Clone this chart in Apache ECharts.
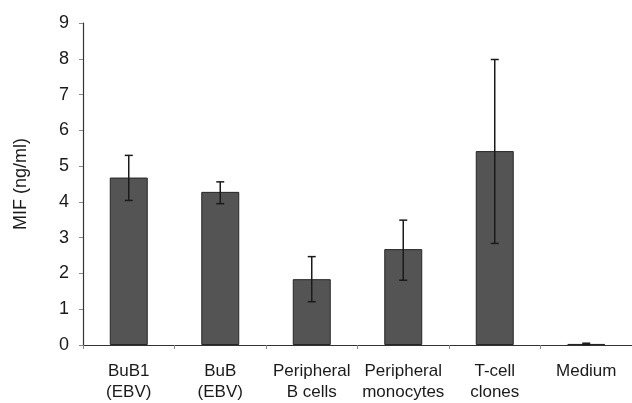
<!DOCTYPE html>
<html>
<head>
<meta charset="utf-8">
<script src="https://cdn.jsdelivr.net/npm/echarts@6/dist/echarts.min.js"></script>
<style>
html,body{margin:0;padding:0;background:#fff;}
#chart{width:632px;height:403px;}
</style>
</head>
<body>
<div id="chart"></div>
<script>
var categories = ['BuB1\n(EBV)', 'BuB\n(EBV)', 'Peripheral\nB cells', 'Peripheral\nmonocytes', 'T-cell\nclones', 'Medium'];
var means = [4.68, 4.28, 1.84, 2.68, 5.42, 0.03];
var errLow = [4.04, 3.95, 1.21, 1.81, 2.84, 0.01];
var errHigh = [5.30, 4.56, 2.47, 3.49, 7.98, 0.05];
var yTicks = [0, 1, 2, 3, 4, 5, 6, 7, 8, 9];

var chart = echarts.init(document.getElementById('chart'));
var font = 'Liberation Sans, Arial, sans-serif';
chart.setOption({
  animation: false,
  backgroundColor: '#fff',
  grid: {left: 83, right: 0, top: 23, bottom: 57},
  xAxis: {
    type: 'category',
    data: categories,
    axisLine: {lineStyle: {color: '#333', width: 1}},
    axisTick: {show: true, length: 4, lineStyle: {color: '#888'}},
    axisLabel: {interval: 0, color: '#1a1a1a', fontFamily: font, fontSize: 17, lineHeight: 21, margin: 16}
  },
  yAxis: {
    type: 'value',
    min: yTicks[0], max: yTicks[yTicks.length - 1], interval: 1,
    name: 'MIF (ng/ml)',
    nameLocation: 'middle',
    nameGap: 53,
    nameTextStyle: {color: '#1a1a1a', fontFamily: font, fontSize: 18},
    axisLine: {show: true, lineStyle: {color: '#333', width: 1.2}},
    axisTick: {show: true, length: 4, lineStyle: {color: '#888'}},
    splitLine: {show: false},
    axisLabel: {color: '#1a1a1a', fontFamily: font, fontSize: 18, margin: 14}
  },
  series: [
    {
      type: 'bar',
      data: means,
      barWidth: 38,
      itemStyle: {color: '#545454', borderColor: '#262626', borderWidth: 1}
    },
    {
      type: 'custom',
      data: categories.map(function (c, i) { return [i, errLow[i], errHigh[i]]; }),
      renderItem: function (params, api) {
        var x = api.value(0);
        var lo = api.coord([x, api.value(1)]);
        var hi = api.coord([x, api.value(2)]);
        var half = 4;
        var style = {stroke: '#1a1a1a', lineWidth: 1.5};
        return {
          type: 'group',
          children: [
            {type: 'line', shape: {x1: hi[0], y1: hi[1], x2: lo[0], y2: lo[1]}, style: style},
            {type: 'line', shape: {x1: hi[0] - half, y1: hi[1], x2: hi[0] + half, y2: hi[1]}, style: style},
            {type: 'line', shape: {x1: lo[0] - half, y1: lo[1], x2: lo[0] + half, y2: lo[1]}, style: style}
          ]
        };
      },
      z: 10
    }
  ]
});
</script>
</body>
</html>
